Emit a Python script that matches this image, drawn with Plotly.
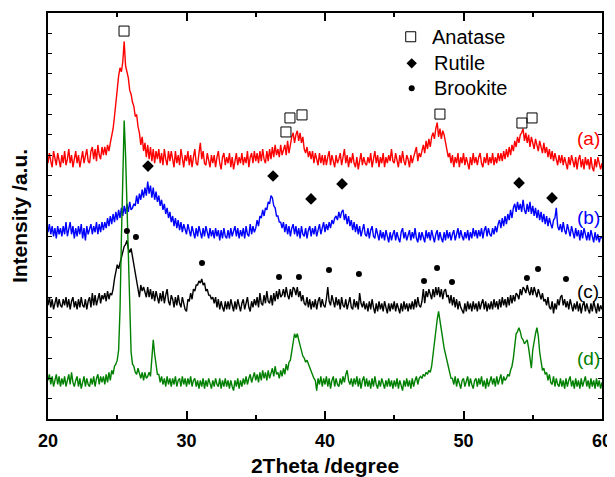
import plotly.graph_objects as go

# 2-theta sampling grid (0.1 degree steps, 20..60)
two_theta = [round(20 + 0.1 * i, 1) for i in range(401)]

# (a) red trace, offset units
int_a = [
    12.6, 13.1, 12.7, 12.4, 13.2, 12.9, 12.5, 13.1, 12.8, 12.4,
    13.0, 12.6, 13.2, 12.5, 12.8, 13.3, 12.6, 13.0, 12.4, 12.9,
    13.2, 12.6, 13.0, 12.4, 12.9, 13.2, 12.6, 13.0, 13.3, 12.7,
    12.6, 13.2, 13.4, 12.8, 13.3, 12.7, 13.5, 13.0, 12.8, 13.4,
    13.0, 13.4, 13.0, 13.5, 13.2, 13.6, 13.9, 14.3, 14.9, 15.6,
    16.3, 16.9, 17.3, 17.1, 17.6, 18.6, 17.4, 17.1, 16.8, 16.2,
    16.0, 15.6, 15.4, 14.9, 15.0, 14.4, 14.1, 13.5, 13.9, 13.2,
    13.6, 12.9, 13.5, 12.8, 13.4, 12.7, 13.3, 12.6, 13.2, 12.8,
    13.3, 12.6, 13.1, 12.5, 13.3, 12.8, 12.5, 13.2, 12.7, 13.2,
    12.7, 12.4, 13.2, 12.6, 13.0, 12.5, 13.3, 12.7, 12.4, 13.0,
    12.7, 13.2, 12.5, 13.0, 12.4, 12.9, 13.3, 12.6, 12.5, 13.1,
    13.6, 12.8, 13.2, 12.6, 12.5, 13.1, 12.7, 12.4, 13.0, 12.6,
    13.0, 12.4, 12.9, 13.2, 12.6, 12.3, 12.9, 13.1, 12.5, 12.9,
    12.6, 13.1, 12.4, 12.9, 12.3, 12.7, 13.1, 12.5, 12.9, 12.6,
    13.1, 12.5, 12.9, 12.6, 13.2, 12.4, 12.9, 13.1, 12.6, 13.2,
    12.7, 13.1, 12.6, 13.2, 12.7, 13.3, 12.8, 12.6, 13.2, 12.7,
    13.3, 12.8, 13.4, 12.9, 13.5, 13.0, 13.3, 12.9, 13.5, 13.0,
    13.3, 13.5, 13.0, 13.7, 13.1, 13.6, 13.9, 14.1, 13.6, 14.0,
    14.2, 13.7, 14.1, 13.6, 13.9, 13.3, 13.1, 13.4, 12.9, 13.2,
    12.8, 13.2, 12.6, 13.1, 12.8, 12.5, 13.1, 12.6, 13.0, 12.5,
    13.0, 12.5, 12.9, 13.2, 12.5, 13.0, 12.7, 12.4, 13.0, 12.6,
    12.8, 13.1, 12.5, 12.9, 13.3, 12.6, 13.0, 12.4, 12.9, 12.6,
    13.1, 12.6, 12.4, 12.9, 12.3, 12.7, 13.1, 12.5, 12.9, 12.6,
    12.5, 12.9, 12.6, 13.1, 12.4, 12.8, 13.2, 12.6, 13.0, 12.4,
    12.9, 12.6, 13.1, 12.4, 12.9, 12.6, 13.0, 12.7, 13.3, 12.7,
    12.6, 13.1, 12.7, 12.4, 13.0, 12.6, 13.2, 12.7, 12.5, 13.0,
    12.8, 12.4, 13.0, 12.6, 12.9, 13.1, 13.4, 12.7, 13.1, 12.9,
    13.2, 13.5, 13.1, 13.7, 13.3, 13.8, 13.4, 13.9, 14.1, 13.8,
    14.3, 14.6, 13.9, 14.3, 13.8, 14.2, 14.0, 13.6, 13.2, 12.9,
    13.1, 12.6, 13.0, 12.4, 12.9, 12.6, 13.1, 12.4, 12.9, 12.6,
    13.1, 12.5, 12.9, 12.6, 12.3, 12.9, 12.5, 13.1, 12.6, 12.9,
    12.5, 12.9, 13.1, 12.6, 12.4, 12.9, 12.6, 13.1, 12.5, 12.9,
    12.6, 13.1, 12.5, 12.9, 12.6, 13.1, 12.7, 13.1, 12.7, 13.2,
    12.8, 13.3, 12.9, 13.4, 13.0, 13.5, 13.2, 13.7, 13.4, 13.9,
    13.6, 14.0, 14.1, 14.3, 13.7, 14.1, 13.6, 14.0, 13.4, 13.9,
    13.5, 13.3, 13.8, 13.4, 13.2, 13.7, 13.3, 13.1, 13.6, 13.1,
    13.4, 12.9, 13.3, 12.8, 13.2, 12.7, 13.1, 12.7, 12.5, 13.0,
    12.6, 13.0, 12.5, 12.9, 12.6, 12.3, 12.9, 12.5, 13.0, 12.6,
    12.4, 12.9, 12.3, 12.8, 13.0, 12.4, 12.8, 12.3, 12.9, 12.5,
    12.8, 12.3, 12.9, 12.4, 12.2, 12.8, 12.4, 12.9, 12.5, 12.3,
    12.6,
]

# (b) blue trace
int_b = [
    9.2, 9.6, 9.1, 9.5, 9.0, 9.4, 8.9, 9.5, 9.1, 9.4,
    9.0, 9.5, 9.1, 9.7, 9.0, 9.3, 9.7, 9.1, 9.5, 8.9,
    9.4, 9.0, 9.5, 9.1, 9.6, 8.9, 9.4, 8.8, 9.5, 9.1,
    9.4, 9.6, 9.1, 9.5, 9.2, 9.7, 9.1, 9.6, 9.2, 9.7,
    9.3, 9.7, 9.4, 9.9, 9.5, 10.0, 9.6, 10.1, 9.7, 10.2,
    9.8, 10.3, 9.9, 10.4, 10.0, 10.5, 10.1, 10.6, 10.2, 10.7,
    10.3, 10.4, 10.6, 10.5, 11.0, 10.6, 11.1, 10.8, 11.3, 10.9,
    11.4, 11.0, 11.7, 11.1, 11.5, 10.9, 11.4, 10.8, 11.2, 10.7,
    11.0, 10.5, 10.8, 10.3, 10.6, 10.1, 10.4, 9.9, 10.2, 9.7,
    10.0, 9.5, 9.9, 9.4, 9.8, 9.3, 9.7, 9.2, 9.6, 9.3,
    9.1, 9.6, 9.2, 9.0, 9.5, 9.1, 8.9, 9.4, 9.0, 9.5,
    9.1, 8.9, 9.4, 9.0, 9.5, 9.1, 8.9, 9.4, 9.0, 9.3,
    8.9, 9.4, 9.0, 9.3, 8.8, 9.3, 8.9, 9.4, 9.0, 8.9,
    9.3, 8.9, 9.4, 9.0, 9.3, 9.5, 9.0, 9.4, 8.9, 9.3,
    9.0, 9.4, 8.9, 9.5, 9.1, 9.0, 9.6, 9.1, 9.5, 9.2,
    9.4, 9.8, 9.5, 10.0, 9.9, 10.3, 10.0, 10.4, 10.3, 10.7,
    10.6, 11.0, 10.9, 10.5, 10.4, 10.0, 10.0, 9.7, 9.7, 9.4,
    9.7, 9.2, 9.6, 9.1, 9.5, 9.0, 9.4, 9.6, 9.1, 9.5,
    9.0, 9.4, 8.9, 9.5, 9.1, 9.0, 9.4, 8.9, 9.3, 9.5,
    9.0, 9.4, 9.1, 9.5, 9.0, 9.4, 9.6, 9.1, 9.5, 9.7,
    9.2, 9.6, 9.3, 9.7, 9.4, 9.8, 9.6, 9.9, 10.0, 9.8,
    10.2, 9.9, 10.2, 10.3, 9.8, 10.1, 9.6, 10.0, 9.5, 9.8,
    9.3, 9.7, 9.2, 9.6, 9.1, 9.5, 9.0, 9.4, 9.6, 9.1,
    9.0, 9.4, 8.9, 9.3, 9.5, 9.0, 8.9, 9.4, 9.0, 8.8,
    9.3, 8.9, 9.2, 8.8, 9.3, 8.9, 8.7, 9.2, 8.8, 9.1,
    9.3, 8.8, 9.2, 8.9, 8.7, 9.2, 9.4, 8.9, 9.2, 8.8,
    9.1, 9.3, 8.8, 9.2, 8.9, 9.4, 8.9, 8.7, 9.2, 8.8,
    9.2, 8.9, 8.7, 9.3, 8.9, 9.2, 8.8, 9.3, 8.9, 8.7,
    9.1, 9.3, 8.8, 9.2, 8.9, 8.7, 9.2, 8.8, 9.3, 8.9,
    9.2, 8.8, 9.1, 9.3, 8.8, 9.2, 9.4, 8.9, 9.3, 9.0,
    8.8, 9.2, 8.9, 9.3, 8.8, 9.2, 8.9, 9.4, 9.0, 9.3,
    8.9, 9.3, 9.0, 9.4, 8.9, 9.3, 9.5, 9.0, 9.4, 9.1,
    9.0, 9.4, 9.1, 9.5, 9.2, 9.6, 9.8, 9.4, 9.9, 9.5,
    10.0, 9.6, 10.1, 9.8, 10.3, 9.9, 10.4, 10.6, 10.2, 10.7,
    10.3, 10.6, 10.2, 10.8, 10.3, 10.1, 10.6, 10.2, 10.7, 10.1,
    10.5, 10.0, 10.4, 9.9, 10.3, 9.8, 10.2, 9.7, 10.1, 9.6,
    10.0, 9.5, 9.9, 9.6, 9.4, 9.8, 9.9, 10.4, 9.5, 9.3,
    9.6, 9.2, 9.7, 9.3, 9.1, 9.6, 9.2, 9.0, 9.5, 9.1,
    8.9, 9.4, 9.0, 9.3, 8.8, 9.3, 8.9, 9.4, 9.0, 8.8,
    9.2, 8.8, 9.3, 8.9, 8.7, 9.2, 8.8, 9.1, 8.7, 9.0,
    8.9,
]

# (c) black trace
int_c = [
    5.6, 6.0, 5.5, 5.9, 5.4, 5.8, 6.0, 5.5, 5.9, 5.6,
    5.5, 5.9, 5.6, 6.0, 5.5, 5.9, 5.4, 5.8, 6.0, 5.5,
    5.8, 5.4, 5.9, 5.5, 6.0, 5.6, 5.5, 5.9, 5.4, 5.8,
    6.0, 5.5, 6.2, 5.6, 6.1, 5.6, 6.0, 6.2, 5.7, 6.1,
    5.9, 6.2, 5.8, 6.3, 5.9, 6.2, 6.1, 6.4, 6.9, 7.3,
    7.6, 7.4, 7.7, 7.9, 8.2, 8.5, 8.6, 8.8, 8.4, 8.2,
    8.4, 8.0, 7.6, 7.3, 6.8, 6.5, 6.0, 6.6, 6.3, 6.5,
    6.3, 6.0, 6.5, 6.0, 6.4, 5.9, 6.3, 5.8, 6.3, 5.9,
    5.7, 6.2, 5.8, 6.3, 5.7, 6.1, 6.4, 5.8, 5.6, 6.1,
    5.9, 5.5, 6.0, 5.6, 6.1, 5.7, 5.5, 6.0, 5.6, 5.4,
    5.3, 5.9, 5.8, 6.2, 5.9, 6.4, 6.3, 6.6, 6.6, 6.8,
    6.7, 6.9, 6.6, 6.7, 6.3, 6.4, 6.1, 6.1, 5.9, 6.0,
    5.7, 6.0, 5.5, 5.9, 5.4, 5.8, 5.5, 5.3, 5.8, 5.4,
    5.8, 5.4, 5.9, 5.5, 5.3, 5.8, 5.4, 5.9, 5.5, 5.3,
    5.7, 5.9, 5.4, 5.8, 6.0, 5.5, 5.3, 5.8, 5.5, 5.9,
    5.6, 6.0, 5.5, 6.2, 5.7, 5.6, 6.1, 5.7, 6.3, 5.8,
    5.7, 6.1, 5.6, 6.2, 5.8, 6.3, 5.9, 6.4, 6.0, 6.1,
    6.4, 6.0, 6.5, 6.1, 5.9, 6.4, 6.0, 6.5, 6.4, 6.1,
    6.5, 6.0, 6.3, 5.8, 6.1, 5.7, 5.6, 6.0, 5.5, 5.9,
    5.4, 5.8, 5.5, 5.9, 5.4, 5.8, 6.0, 5.5, 5.9, 5.6,
    5.5, 5.9, 6.5, 5.8, 5.6, 6.1, 5.7, 5.5, 6.0, 5.6,
    5.9, 5.4, 6.0, 5.6, 5.5, 5.9, 5.4, 5.8, 6.0, 5.5,
    5.4, 5.9, 5.5, 5.8, 5.4, 6.2, 5.7, 5.5, 5.8, 5.4,
    5.7, 5.3, 5.8, 5.4, 5.9, 5.5, 5.2, 5.7, 5.3, 5.8,
    5.4, 5.7, 5.3, 5.8, 5.4, 5.2, 5.7, 5.3, 5.7, 5.4,
    5.8, 5.3, 5.7, 5.4, 5.2, 5.7, 5.3, 5.8, 5.4, 5.7,
    5.3, 5.7, 5.4, 5.8, 5.4, 5.9, 5.5, 6.0, 5.6, 5.5,
    5.8, 6.4, 5.7, 6.3, 6.0, 6.4, 6.1, 5.9, 6.4, 6.0,
    6.5, 6.1, 6.5, 6.0, 6.4, 5.9, 6.3, 6.4, 6.0, 6.1,
    5.7, 6.1, 5.6, 6.0, 5.5, 5.9, 5.4, 5.8, 5.5, 5.3,
    5.2, 5.7, 5.3, 5.8, 5.4, 5.7, 5.3, 5.8, 5.4, 5.7,
    5.3, 5.8, 5.4, 5.7, 5.9, 5.4, 5.8, 5.3, 5.7, 5.4,
    5.8, 5.4, 5.9, 5.5, 5.8, 5.4, 5.9, 5.5, 6.0, 5.6,
    5.9, 5.5, 6.0, 5.6, 6.1, 5.7, 6.1, 5.8, 6.2, 6.1,
    5.9, 6.4, 6.1, 6.5, 6.4, 6.2, 6.6, 6.3, 6.1, 6.5,
    6.1, 6.5, 6.2, 6.0, 6.4, 6.1, 5.9, 6.2, 5.8, 5.9,
    5.6, 6.0, 5.5, 5.4, 5.8, 5.2, 5.7, 5.4, 5.9, 5.6,
    6.0, 6.1, 5.6, 5.9, 5.5, 5.8, 5.4, 5.9, 5.5, 5.3,
    5.7, 5.4, 5.8, 5.3, 5.7, 5.2, 5.6, 5.8, 5.3, 5.7,
    5.4, 5.2, 5.7, 5.3, 5.8, 5.4, 5.2, 5.7, 5.3, 5.6,
    5.4,
]

# (d) green trace
int_d = [
    1.9, 2.2, 1.7, 2.1, 1.6, 2.0, 2.2, 1.7, 2.1, 1.6,
    2.0, 1.7, 2.1, 1.6, 2.0, 2.2, 1.7, 2.3, 1.8, 1.6,
    1.9, 2.1, 1.6, 2.0, 1.5, 1.9, 2.1, 1.6, 2.0, 1.7,
    1.6, 2.0, 1.7, 2.1, 1.6, 2.0, 2.2, 1.7, 2.1, 1.8,
    2.1, 1.7, 2.2, 1.8, 2.3, 1.9, 2.4, 2.2, 2.6, 2.7,
    2.9, 3.4, 5.4, 8.9, 12.0, 14.7, 13.0, 10.5, 7.9, 4.8,
    3.3, 2.7, 2.6, 2.3, 2.2, 2.5, 2.2, 2.0, 2.3, 1.9,
    2.3, 2.0, 2.1, 2.3, 2.1, 3.0, 3.9, 3.2, 2.6, 2.2,
    2.2, 1.8, 2.1, 1.7, 2.0, 1.6, 2.1, 1.7, 2.0, 1.6,
    2.0, 1.7, 2.1, 1.6, 1.9, 2.0, 1.6, 2.1, 1.7, 2.0,
    1.6, 2.0, 1.7, 2.1, 1.6, 1.9, 2.0, 1.6, 1.9, 1.5,
    1.9, 1.6, 2.0, 1.5, 1.9, 1.6, 2.0, 1.7, 1.5, 1.9,
    1.6, 2.0, 1.7, 1.6, 2.0, 1.5, 1.9, 1.6, 2.0, 1.6,
    1.9, 1.5, 1.9, 1.6, 1.4, 1.9, 1.6, 2.0, 1.5, 1.9,
    1.6, 2.0, 1.7, 2.1, 1.7, 2.0, 2.2, 1.8, 2.1, 2.3,
    1.9, 2.2, 1.8, 2.3, 1.9, 2.4, 2.0, 2.3, 1.9, 2.4,
    2.0, 2.3, 2.5, 2.1, 2.6, 2.2, 2.3, 2.0, 2.4, 2.1,
    2.5, 2.2, 2.7, 2.4, 2.8, 2.9, 3.3, 3.8, 4.2, 4.0,
    4.2, 3.9, 3.6, 3.3, 3.1, 3.0, 2.8, 2.9, 2.7, 2.6,
    2.4, 2.2, 2.0, 1.9, 1.4, 2.0, 1.7, 2.1, 1.6, 2.0,
    1.7, 2.1, 1.6, 2.0, 1.5, 1.9, 2.1, 1.6, 2.0, 1.7,
    1.6, 2.0, 1.7, 2.1, 1.8, 2.2, 2.4, 1.9, 1.7, 2.0,
    1.6, 2.0, 1.7, 2.1, 1.6, 2.0, 1.5, 1.9, 2.1, 1.6,
    2.0, 1.6, 1.9, 1.5, 2.0, 1.6, 2.1, 1.7, 1.5, 1.9,
    1.6, 2.0, 1.7, 1.5, 1.9, 1.6, 2.0, 1.6, 1.9, 1.5,
    1.9, 1.6, 2.0, 1.5, 1.9, 1.6, 1.4, 1.9, 1.6, 2.0,
    1.6, 1.9, 1.5, 2.0, 1.6, 1.9, 2.1, 1.7, 2.0, 2.1,
    2.0, 2.2, 2.1, 2.3, 2.2, 2.4, 2.3, 2.6, 3.2, 3.8,
    4.5, 4.9, 5.3, 4.8, 4.4, 3.9, 3.5, 3.2, 2.8, 2.6,
    2.3, 2.0, 2.0, 1.7, 2.1, 1.6, 2.0, 1.7, 1.5, 1.9,
    2.0, 1.6, 1.9, 2.1, 1.6, 2.0, 1.7, 1.5, 1.9, 2.0,
    1.6, 2.0, 1.7, 2.1, 1.6, 1.9, 1.5, 2.0, 1.6, 1.9,
    2.1, 1.7, 2.0, 1.6, 2.1, 1.7, 2.0, 2.2, 1.7, 2.1,
    1.9, 2.0, 2.2, 2.1, 2.4, 2.6, 3.0, 3.6, 4.2, 4.3,
    4.5, 4.3, 4.0, 3.9, 3.7, 3.8, 3.9, 3.5, 3.1, 2.5,
    3.4, 3.9, 4.2, 4.5, 4.1, 3.3, 2.9, 2.4, 2.5, 2.2,
    2.3, 1.9, 2.2, 1.8, 1.7, 2.1, 1.6, 2.0, 1.7, 1.6,
    2.0, 1.6, 1.9, 1.5, 2.0, 1.6, 1.9, 2.1, 1.6, 1.9,
    1.5, 2.0, 1.6, 1.9, 1.5, 2.0, 1.6, 1.9, 2.1, 1.6,
    1.9, 1.5, 2.0, 1.6, 1.9, 1.5, 2.0, 1.6, 1.9, 1.5,
    1.8,
]

# phase markers (peak positions)
anatase_x = [25.49, 37.18, 37.47, 38.34, 48.30, 54.22, 54.95]
anatase_y = [19.11, 14.14, 14.83, 14.98, 15.02, 14.58, 14.83]
rutile_x = [27.22, 36.25, 38.99, 41.23, 54.01, 56.39]
rutile_y = [12.46, 11.97, 10.84, 11.58, 11.63, 10.89]
brookite_x = [25.70, 26.35, 31.12, 36.68, 38.12, 40.29, 42.45, 47.15, 48.09, 49.17, 54.58, 55.38, 57.40]
brookite_y = [9.26, 8.97, 7.68, 7.00, 7.00, 7.34, 7.14, 6.80, 7.44, 6.75, 6.95, 7.39, 6.90]

legend_names = ["Anatase", "Rutile", "Brookite"]
legend_y = [18.83, 17.52, 16.29]
curve_labels = ["(a)", "(b)", "(c)", "(d)"]
curve_label_y = [13.84, 9.95, 6.26, 3.0]
curve_colors = ["#ff0000", "#0000ff", "#000000", "#008000"]

FONT = "Liberation Sans, Arial"

fig = go.Figure()
for vals, col in zip([int_a, int_b, int_c, int_d], curve_colors):
    fig.add_trace(go.Scatter(x=two_theta, y=vals, mode="lines",
                             line=dict(color=col, width=1.4), showlegend=False,
                             hoverinfo="skip"))

fig.add_trace(go.Scatter(x=anatase_x, y=anatase_y, mode="markers",
                         marker=dict(symbol="square-open", size=10, color="black",
                                     line=dict(width=1, color="black")), showlegend=False))
fig.add_trace(go.Scatter(x=rutile_x, y=rutile_y, mode="markers",
                         marker=dict(symbol="diamond", size=9, color="black"), showlegend=False))
fig.add_trace(go.Scatter(x=brookite_x, y=brookite_y, mode="markers",
                         marker=dict(symbol="circle", size=6, color="black"), showlegend=False))

# legend symbols
fig.add_trace(go.Scatter(x=[46.19], y=[legend_y[0]], mode="markers",
                         marker=dict(symbol="square-open", size=10, color="black",
                                     line=dict(width=1, color="black")), showlegend=False))
fig.add_trace(go.Scatter(x=[46.26], y=[legend_y[1]], mode="markers",
                         marker=dict(symbol="diamond", size=8, color="black"), showlegend=False))
fig.add_trace(go.Scatter(x=[46.26], y=[legend_y[2]], mode="markers",
                         marker=dict(symbol="circle", size=6, color="black"), showlegend=False))

annotations = []
for name, yy, xx in zip(legend_names, legend_y, [47.58, 47.73, 47.73]):
    annotations.append(dict(x=xx, y=yy, xref="x", yref="y", text=name, showarrow=False,
                            xanchor="left", yanchor="middle",
                            font=dict(family=FONT, size=20, color="black")))
for lab, yy, col in zip(curve_labels, curve_label_y, curve_colors):
    annotations.append(dict(x=58.99, y=yy, xref="x", yref="y", text=lab, showarrow=False,
                            xanchor="center", yanchor="middle",
                            font=dict(family=FONT, size=19, color=col)))

# page body adds an 8px margin, so the figure is 8px smaller than the window
fig.update_layout(
    width=607, height=469,
    margin=dict(l=40, r=13, t=5, b=58),
    paper_bgcolor="white", plot_bgcolor="white",
    annotations=annotations,
    font=dict(family=FONT, color="black"),
)
fig.update_xaxes(
    range=[20, 60], tickmode="linear", tick0=20, dtick=10,
    ticks="inside", ticklen=8, tickwidth=1.5, tickcolor="black",
    minor=dict(dtick=5, ticks="inside", ticklen=4, tickwidth=1.5, tickcolor="black"),
    showline=True, linewidth=1.5, linecolor="black", mirror="ticks",
    showgrid=False, zeroline=False, automargin=False,
    ticklabelstandoff=5,
    tickfont=dict(family=FONT, size=18, color="black", weight="bold"),
    title=dict(text="<b>2Theta /degree</b>", font=dict(family=FONT, size=21),
               standoff=10),
)
fig.update_yaxes(
    range=[0, 20], tickmode="linear", tick0=0, dtick=1,
    ticks="inside", ticklen=4, tickwidth=1.2, tickcolor="black",
    showticklabels=False,
    showline=True, linewidth=1.5, linecolor="black", mirror="ticks",
    showgrid=False, zeroline=False, automargin=False,
    title=dict(text="<b>Intensity /a.u.</b>", font=dict(family=FONT, size=21),
               standoff=14),
)

fig.write_html("out.html")
